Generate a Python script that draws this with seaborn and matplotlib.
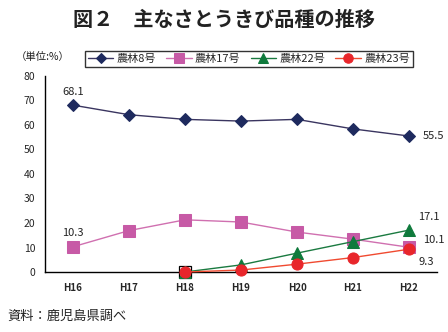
import matplotlib
matplotlib.use("Agg")
import matplotlib.pyplot as plt
import seaborn as sns
import pandas as pd
import numpy as np

sns.set_theme(style="white")
plt.rcParams['font.family'] = ['Noto Sans CJK JP', 'DejaVu Sans']

years = ["H16", "H17", "H18", "H19", "H20", "H21", "H22"]
nourin8 = [68.1, 64.2, 62.3, 61.6, 62.3, 58.4, 55.5]
nourin17 = [10.3, 16.9, 21.3, 20.4, 16.3, 13.4, 10.1]
nourin22 = [None, None, 0.0, 2.9, 7.7, 12.4, 17.1]
nourin23 = [None, None, 0.0, 0.8, 3.2, 5.9, 9.3]

series_names = ["農林8号", "農林17号", "農林22号", "農林23号"]
series_values = [nourin8, nourin17, nourin22, nourin23]
line_colors = ["#3a3560", "#d070b0", "#1a7a40", "#f04a30"]
marker_colors = ["#1e2a5e", "#c75aa6", "#0f7a3c", "#e8262b"]
markers = ["D", "s", "^", "o"]
msizes = [6.5, 8, 8, 8]

rows = []
for name, vals in zip(series_names, series_values):
    for i, (yr, v) in enumerate(zip(years, vals)):
        if v is not None:
            rows.append({"year": yr, "idx": i, "value": v, "series": name})
df = pd.DataFrame(rows)

fig = plt.figure(figsize=(4.48, 3.32), dpi=100)
ax = fig.add_axes([45 / 448, 1 - 272 / 332, 392 / 448, 196 / 332])

for name, lc, mc, mk, ms in zip(series_names, line_colors, marker_colors, markers, msizes):
    sub = df[df["series"] == name]
    sns.lineplot(data=sub, x="idx", y="value", ax=ax, color=lc, lw=1.0,
                 marker=mk, markersize=ms, markerfacecolor=mc,
                 markeredgecolor=mc, label=name, clip_on=False, zorder=3)

# outlined start point of 農林22号
start = df[(df["series"] == "農林22号")].iloc[0]
ax.plot([start["idx"]], [start["value"]], marker="s", markersize=9,
        markerfacecolor="none", markeredgecolor="black", markeredgewidth=0.9,
        clip_on=False, zorder=2)

ax.set_xlim(-0.5, len(years) - 0.5)
ax.set_ylim(0, 80)
ax.set_yticks(np.arange(0, 81, 10))
ax.set_yticklabels([str(v) for v in range(0, 81, 10)], fontsize=7.5)
ax.set_xticks(range(len(years)))
ax.set_xticklabels(years, fontsize=7, fontweight="bold")
ax.set_xticks(np.arange(0.5, len(years), 1.0), minor=True)
ax.tick_params(axis="x", which="major", length=0, pad=8)
ax.tick_params(axis="x", which="minor", length=3, direction="in", color="black", width=0.8)
ax.tick_params(axis="y", which="major", length=4, direction="out", color="black", width=0.8, pad=3)
ax.set_xlabel("")
ax.set_ylabel("")
for s in ["top", "right"]:
    ax.spines[s].set_visible(False)
for s in ["left", "bottom"]:
    ax.spines[s].set_color("black")
    ax.spines[s].set_linewidth(1.0)

# value labels
lbl = dict(fontsize=8, color="#222222")
ax.text(0, nourin8[0] + 3.5, f"{nourin8[0]}", ha="center", va="bottom", **lbl)
ax.text(0, nourin17[0] + 3.5, f"{nourin17[0]}", ha="center", va="bottom", **lbl)
ax.text(6.25, nourin8[-1], f"{nourin8[-1]}", ha="left", va="center", **lbl)
ax.text(6.17, 22.3, f"{nourin22[-1]}", ha="left", va="center", **lbl)
ax.text(6.25, 13.0, f"{nourin17[-1]}", ha="left", va="center", **lbl)
ax.text(6.17, 4.2, f"{nourin23[-1]}", ha="left", va="center", **lbl)

leg = ax.legend(loc="lower left", bbox_to_anchor=(85 / 448, 1 - 67 / 332),
                bbox_transform=fig.transFigure, borderaxespad=0, ncol=4, fontsize=8,
                frameon=True, fancybox=False, edgecolor="black",
                handlelength=2.3, handletextpad=0.3, columnspacing=0.9,
                borderpad=0.25, markerscale=0.85)
leg.get_frame().set_linewidth(1.0)

fig.text(0.5, 1 - 19 / 332, "図２　主なさとうきび品種の推移", ha="center", va="center",
         fontsize=14.5, fontweight="bold", color="#222222")
fig.text(16 / 448, 1 - 57 / 332, "（単位:%）", ha="left", va="center", fontsize=7.5, color="#222222")
fig.text(7 / 448, 1 - 316 / 332, "資料：鹿児島県調べ", ha="left", va="center", fontsize=9.5, color="#222222")

fig.savefig("out.png", dpi=100)
